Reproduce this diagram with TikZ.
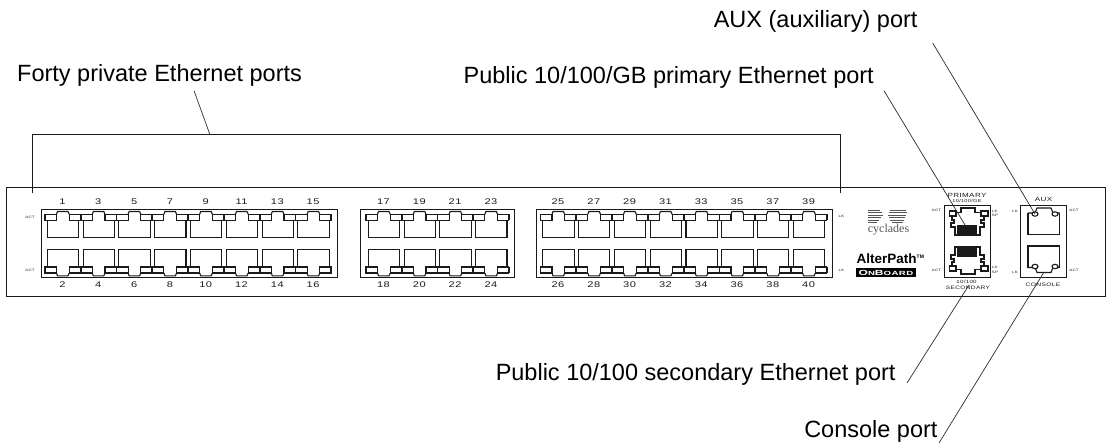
\documentclass[tikz,border=0pt]{standalone}
\usepackage{fontspec}
\setmainfont{Liberation Sans}
\newfontfamily\panelfont[FakeStretch=1.35,LetterSpace=6]{Liberation Sans}
\newfontfamily\boardfont[FakeStretch=1.6,LetterSpace=8]{Liberation Sans Bold}
\newfontfamily\logofont{Liberation Serif}
\usetikzlibrary{calc}
\definecolor{ink}{HTML}{1A1A1A}
\definecolor{leadink}{HTML}{2B2B2B}
\definecolor{logogray}{HTML}{555555}
\tikzset{
  shell/.style={draw=ink, line width=0.9pt},
  portline/.style={draw=ink, line width=1.1pt, line join=miter},
  leader/.style={draw=leadink, line width=0.7pt},
  lab/.style={text=black, inner sep=0pt, font=\fontsize{23.5}{26}\selectfont},
  num/.style={text=ink, inner sep=0pt, font=\panelfont\fontsize{8.2}{9}\selectfont},
  tiny/.style={text=ink, inner sep=0pt, font=\panelfont\fontsize{3.3}{4.5}\selectfont},
  jack/.pic={
    \draw[portline] (2.3,6) -- (2.3,23.3) -- (33.6,23.3) -- (33.6,6);
    \draw[portline] (0,0) rectangle (11.5,6);
    \draw[portline] (24.2,0) rectangle (35.4,6);
    \draw[portline] (11.5,0) -- (12.5,-2.8) -- (23,-2.8) -- (24.2,0);
    \fill[ink] (34.8,0) rectangle (36.6,6);
  },
  upjack/.pic={
    \draw[portline] (-16,5) -- (-16,26.5) -- (15.5,26.5) -- (15.5,5);
    \draw[portline] (-16,5) -- (-9,5) -- (-7,0) -- (7,0) -- (9,5) -- (15.5,5);
    \draw[portline, fill=white] (-9,6) ellipse (3 and 2.2);
    \draw[portline, fill=white] (11,6) ellipse (3 and 2.2);
  },
  gigjack/.pic={
    \draw[portline, line width=1.3pt] (-17.5,3) rectangle (-11,8);
    \draw[portline, line width=1.3pt] (14,3) rectangle (21,8);
    \draw[portline, line width=1.3pt] (-11,4.5) -- (-6,4.5) -- (-6,0) -- (8,0) -- (8,4.5) -- (14,4.5);
    \draw[portline, line width=1.3pt] (-15,8) -- (-15,12) -- (-13,12) -- (-13,15) -- (-16,15) -- (-16,19) -- (-12,19) -- (-12,27)
      -- (13,27) -- (13,19) -- (17,19) -- (17,15) -- (14,15) -- (14,12) -- (17,12) -- (17,8);
    \fill[ink] (-10.3,17) rectangle (10,27);
  }
}
\begin{document}
\begin{tikzpicture}[x=1pt,y=-1pt]
  \useasboundingbox (0,0) rectangle (1108,444);
  % panel
  \draw[shell] (6,187.5) rectangle (1105.5,296);
  % port groups
  \draw[shell] (41,209) rectangle (337,277);
  \draw[shell] (360,209) rectangle (514,277);
  \draw[shell] (536,209) rectangle (832,277);
  \foreach \x/\first/\count in {45/1/8, 366/17/4, 540.5/25/8} {
    \pgfmathtruncatemacro{\last}{\count-1}
    \foreach \i in {0,...,\last} {
      \pgfmathtruncatemacro{\odd}{\first+2*\i}
      \pgfmathtruncatemacro{\even}{\first+2*\i+1}
      \pgfmathsetmacro{\px}{\x+35.8*\i}
      \pic at (\px,214.3) {jack};
      \pic[yscale=-1] at (\px,273) {jack};
      \node[num] (n\odd) at (\px+17.5,201.5) {\odd};
      \node[num] (n\even) at (\px+17.5,285) {\even};
    }
  }
  \node[tiny] (actA) at (30,217) {ACT};
  \node[tiny] (actB) at (30,270) {ACT};
  \node[tiny] (lkA) at (841.5,216.5) {LK};
  \node[tiny] (lkB) at (841.5,270) {LK};
  % logo
  \foreach \y/\a/\b/\c in {209.5/880/890/906, 212/882/889/907, 214.5/883/888/906, 217/881/889/905, 219.5/879/890/904, 221.5/877/892/903} {
    \fill[logogray] (868.3,\y) rectangle (\a,\y+1.4);
    \fill[logogray] (\b,\y) rectangle (\c,\y+1.4);
  }
  \node[inner sep=0pt, text=logogray, font=\logofont\fontsize{12}{14}\selectfont] (logo) at (888.5,230) {cyclades};
  \node[inner sep=0pt, anchor=base west, text=black, font=\bfseries\fontsize{13.5}{15}\selectfont] (alter) at (856.5,263.3) {AlterPath\raisebox{4.5pt}{\fontsize{5}{6}\selectfont TM}};
  \node[fill=black, text=white, inner sep=0pt, minimum width=60pt, minimum height=8.4pt, font=\boardfont] (onboard) at (886,272.5) {\fontsize{7.5}{8}\selectfont O\fontsize{6}{8}\selectfont N\fontsize{7.5}{8}\selectfont B\fontsize{6}{8}\selectfont OARD};
  % network ports
  \draw[shell] (944,205) rectangle (990.5,277);
  \pic at (967,208) {gigjack};
  \pic[yscale=-1] at (967,274) {gigjack};
  \node[num, font=\panelfont\fontsize{6}{7}\selectfont] (primary) at (967,195) {PRIMARY};
  \node[tiny, font=\panelfont\fontsize{4.2}{6}\selectfont] (ge) at (967,201) {10/100/GE};
  \node[tiny, font=\panelfont\fontsize{4.6}{6}\selectfont] (ten) at (966.5,282) {10/100};
  \node[num, font=\panelfont\fontsize{4.9}{6}\selectfont] (secondary) at (968,288) {SECONDARY};
  \node[tiny] (actC) at (936.5,210) {ACT};
  \node[tiny] (actD) at (936.5,270) {ACT};
  \node[tiny, align=left] (lkC) at (995,213.5) {LK\\SP};
  \node[tiny, align=left] (lkD) at (995,270) {LK\\SP};
  % aux and console
  \draw[shell] (1020.5,205) rectangle (1066.5,277.5);
  \pic at (1044,208) {upjack};
  \pic[yscale=-1] at (1044,272.5) {upjack};
  \node[num, font=\panelfont\fontsize{6}{7}\selectfont] (aux) at (1043.5,199) {AUX};
  \node[num, font=\panelfont\fontsize{5}{7}\selectfont] (console) at (1043,284.5) {CONSOLE};
  \node[tiny] (lkE) at (1015,211.5) {LK};
  \node[tiny] (actE) at (1074,210) {ACT};
  \node[tiny] (lkF) at (1015,272) {LK};
  \node[tiny] (actF) at (1074,270) {ACT};
  % bracket over the forty ports
  \coordinate (brL) at (32,193);
  \coordinate (brR) at (840,193);
  \coordinate (brM) at (209.7,134);
  \draw[shell] (brL) |- (brR |- brM) -- (brR);
  % labels
  \node[lab, anchor=base west] (forty) at (17,81.7) {Forty private Ethernet ports};
  \node[lab, anchor=base east] (auxlab) at (917.7,28) {AUX (auxiliary) port};
  \node[lab, anchor=base east] (prilab) at (874,83) {Public 10/100/GB primary Ethernet port};
  \node[lab, anchor=base east] (seclab) at (895.7,380.7) {Public 10/100 secondary Ethernet port};
  \node[lab, anchor=base east] (conlab) at (937.7,437) {Console port};
  % leaders
  \coordinate (fortyEnd) at (194,90.7);
  \coordinate (auxA) at (932.7,43);
  \coordinate (auxB) at (1035,214);
  \coordinate (priA) at (884,90.7);
  \coordinate (priB) at (965,225);
  \coordinate (secA) at (907,383);
  \coordinate (secB) at (969,285);
  \coordinate (conA) at (939,443);
  \coordinate (conB) at (1043.4,273);
  \draw[leader] (fortyEnd) -- (brM);
  \draw[leader] (auxA) -- (auxB);
  \draw[leader] (priA) -- (priB);
  \draw[leader] (secA) -- (secB);
  \draw[leader] (conA) -- (conB);
\end{tikzpicture}
\end{document}
